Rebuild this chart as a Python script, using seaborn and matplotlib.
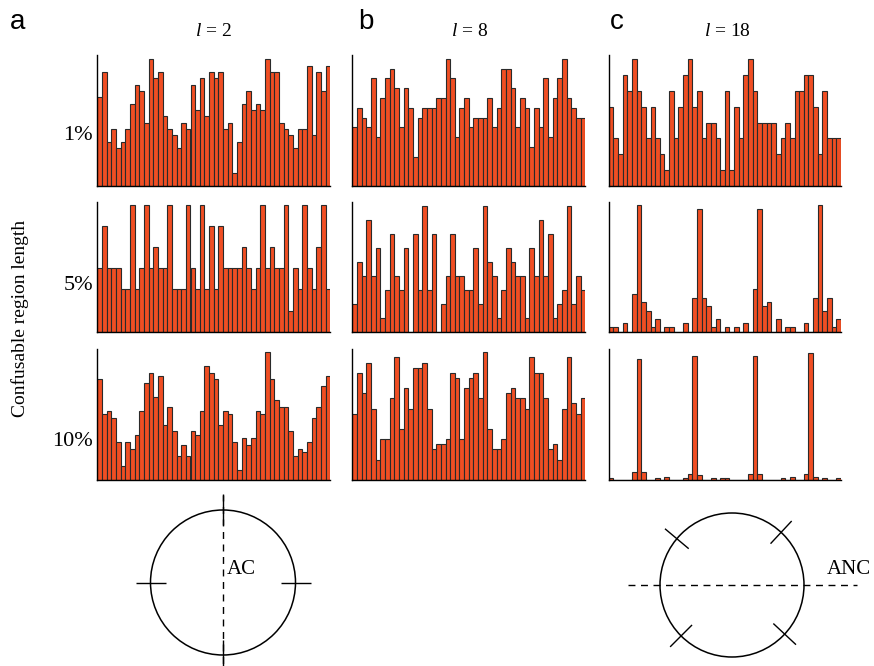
import numpy as np
import pandas as pd
import matplotlib
matplotlib.use("Agg")
import matplotlib.pyplot as plt
import seaborn as sns
from matplotlib.patches import Circle

sns.set_theme(style="white")
plt.rcParams["font.family"] = ["Liberation Serif", "DejaVu Serif"]
plt.rcParams["mathtext.fontset"] = "custom"
plt.rcParams["mathtext.it"] = "Liberation Serif:italic"
plt.rcParams["mathtext.rm"] = "Liberation Serif"
plt.rcParams["text.color"] = "black"

# ---------------- data (bin counts) ----------------
col_titles = ["$l$ = 2", "$l$ = 8", "$l$ = 18"]
panel_letters = ["a", "b", "c"]
row_labels = ["1%", "5%", "10%"]
ylabel = "Confusable region length"

a1 = [14,18,7,9,6,7,9,13,16,15, 10,20,17,18,11,9,8,6,10,9, 16,12,17,11,18,17,18,9,10,2,
      7,13,15,12,13,12,20,18,18,10, 9,8,6,9,9,19,8,18,15,19]
b1 = [6,8,7,6,11,5,9,11,12,10, 6,10,8,3,7,8,8,8,9,9, 13,11,5,8,9,6,7,7,7,9,
      6,8,12,12,10,6,9,8,4,8, 6,11,5,9,11,13,9,8,7,7]
c1 = [5,3,2,7,6,8,6,5,3,5, 3,2,1,6,3,5,7,8,5,6, 3,4,4,3,1,6,1,5,3,7,
      8,6,4,4,4,4,2,3,4,3, 6,6,7,7,5,2,6,3,3,3]
a2 = [3,5,3,3,3,2,2,6,2,3, 6,3,4,3,3,6,2,2,2,6, 3,2,6,2,5,2,5,3,3,3,
      3,4,3,2,3,6,3,4,3,3, 6,1,3,2,6,3,2,4,6,2]
b2 = [2,5,4,8,4,6,1,3,7,4, 3,6,0,7,3,9,3,7,0,2, 4,7,4,4,3,3,6,2,9,5,
      4,1,3,6,5,4,4,1,6,4, 8,4,7,1,2,3,9,2,4,3]
c2 = [1,1,0,2,0,9,30,7,5,1, 3,0,1,1,0,0,2,0,8,29, 8,6,1,3,0,1,0,1,0,2,
      0,10,29,6,7,0,3,0,1,1, 0,0,2,0,8,30,5,8,1,3]
a3 = [29,19,20,18,11,4,11,9,13,20, 28,31,24,30,16,21,14,7,10,7, 14,13,20,33,31,29,16,20,19,11,
      3,12,10,12,20,19,37,29,23,21, 21,14,7,9,8,11,18,21,27,30]
b3 = [13,21,17,23,14,4,8,8,16,24, 10,18,14,22,22,23,14,6,7,7, 8,21,20,8,18,20,21,16,25,10,
      6,6,8,17,18,16,16,14,24,21, 21,16,6,7,4,14,24,15,13,16]
c3 = [1,0,0,0,0,5,79,5,0,0, 1,0,2,0,0,0,1,4,81,3, 0,0,1,0,1,1,0,0,0,0,
      4,81,4,0,0,0,0,1,0,2, 0,0,4,83,2,0,1,0,0,1]

grid = [[a1, b1, c1], [a2, b2, c2], [a3, b3, c3]]
ytops = [[20.7, 13.4, 8.26], [6.14, 9.3, 30.8], [37.7, 25.6, 85.2]]

bar_color = "#F04E23"
edge_color = "#2a2a2a"

# ---------------- layout ----------------
W, H = 874, 666
fig = plt.figure(figsize=(W / 100, H / 100), dpi=100)

col_left = [97.3, 352.3, 608.7]
col_width = [233.0, 233.0, 232.3]
row_top = [55.0, 201.7, 349.3]
row_bottom = [186.0, 331.7, 480.0]

for r in range(3):
    for c in range(3):
        vals = grid[r][c]
        ax = fig.add_axes([col_left[c] / W, 1 - row_bottom[r] / H,
                           col_width[c] / W, (row_bottom[r] - row_top[r]) / H])
        df = pd.DataFrame({"bin": np.arange(len(vals)), "count": vals})
        sns.barplot(data=df, x="bin", y="count", color=bar_color, saturation=1,
                    edgecolor=edge_color, linewidth=0.8, width=1.0, ax=ax)
        ax.set_xlim(-0.5, len(vals) - 0.5)
        ax.set_ylim(0, ytops[r][c])
        ax.set_xticks([])
        ax.set_yticks([])
        ax.set_xlabel("")
        ax.set_ylabel("")
        for s in ["top", "right"]:
            ax.spines[s].set_visible(False)
        for s in ["left", "bottom"]:
            ax.spines[s].set_color("black")
            ax.spines[s].set_linewidth(1.0)

# titles and labels
title_x = [213, 470, 727]
for c in range(3):
    fig.text(title_x[c] / W, 1 - 31 / H, col_titles[c], ha="center", va="center",
             fontsize=14, family=["Liberation Serif"])
letter_x = [18, 366, 617]
for c in range(3):
    fig.text(letter_x[c] / W, 1 - 22 / H, panel_letters[c], ha="center", va="center",
             fontsize=20, family=["Liberation Sans"])
row_y = [136, 286, 441]
for r in range(3):
    fig.text(93 / W, 1 - row_y[r] / H, row_labels[r], ha="right", va="center",
             fontsize=16, family=["Liberation Serif"])
fig.text(20 / W, 1 - 318 / H, ylabel, rotation=90, ha="center", va="center",
         fontsize=14, family=["Liberation Serif"])

# ---------------- schematic circles ----------------
ov = fig.add_axes([0, 0, 1, 1], zorder=-1)
ov.set_xlim(0, W)
ov.set_ylim(H, 0)
ov.axis("off")

def radial_tick(ax, cx, cy, rad, ang_deg, length):
    a = np.deg2rad(ang_deg)
    dx, dy = np.cos(a), -np.sin(a)
    ax.plot([cx + (rad - length / 2) * dx, cx + (rad + length / 2) * dx],
            [cy + (rad - length / 2) * dy, cy + (rad + length / 2) * dy],
            color="black", lw=1.0, solid_capstyle="butt")

# AC circle
acx, acy, acr = 223, 582.5, 72.5
ov.add_patch(Circle((acx, acy), acr, fill=False, ec="black", lw=1.1))
ov.plot([acx, acx], [494, 665], color="black", lw=1.0, ls=(0, (5, 4)))
for ang in [0, 90, 180, 270]:
    radial_tick(ov, acx, acy, acr, ang, 30)
ov.text(227, 570, "AC", ha="left", va="center", fontsize=15, family=["Liberation Serif"])

# ANC circle
ncx, ncy, ncr = 732, 585, 72
ov.add_patch(Circle((ncx, ncy), ncr, fill=False, ec="black", lw=1.1))
ov.plot([628, 857], [ncy, ncy], color="black", lw=1.0, ls=(0, (5, 4)))
for ang in [47, 140, 225, -43]:
    radial_tick(ov, ncx, ncy, ncr, ang, 31)
ov.text(827, 569, "ANC", ha="left", va="center", fontsize=15, family=["Liberation Serif"])

fig.savefig("out.png", dpi=100)
